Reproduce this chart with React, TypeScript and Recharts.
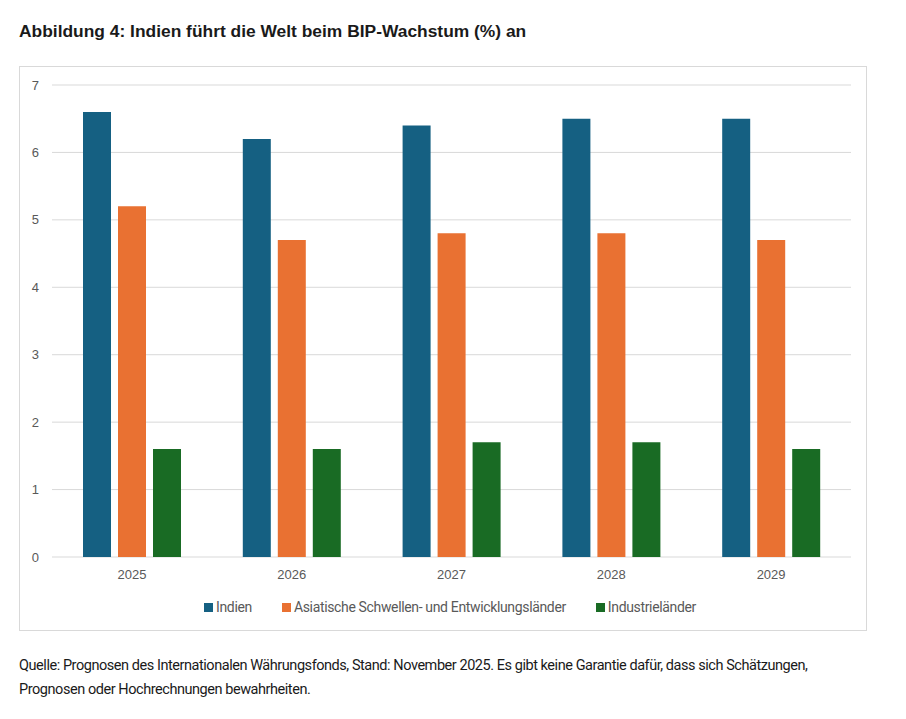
import { BarChart, Bar, XAxis, YAxis, CartesianGrid, Legend } from "recharts";

const YEARS = ["2025", "2026", "2027", "2028", "2029"];
const INDIEN = [6.6, 6.2, 6.4, 6.5, 6.5];
const ASIEN = [5.2, 4.7, 4.8, 4.8, 4.7];
const INDUSTRIE = [1.6, 1.6, 1.7, 1.7, 1.6];
const Y_TICKS = [0, 1, 2, 3, 4, 5, 6, 7];

const SERIES = [
  { key: "indien", name: "Indien", color: "#156082" },
  { key: "asien", name: "Asiatische Schwellen- und Entwicklungsländer", color: "#e97132" },
  { key: "industrie", name: "Industrieländer", color: "#196b24" },
];

const data = YEARS.map((year, i) => ({
  year,
  indien: INDIEN[i],
  asien: ASIEN[i],
  industrie: INDUSTRIE[i],
}));

const axisFont = "'Liberation Sans', Arial, sans-serif";
const narrowFont = "Roboto, 'Liberation Sans', Arial, sans-serif";

function LegendContent() {
  return (
    <div
      style={{
        display: "flex",
        justifyContent: "center",
        gap: 30,
        fontFamily: narrowFont,
        fontSize: 14,
        letterSpacing: -0.35,
        color: "#595959",
        marginLeft: 14,
      }}
    >
      {SERIES.map((s) => (
        <div key={s.key} style={{ display: "flex", alignItems: "center" }}>
          <span
            style={{
              display: "inline-block",
              width: 9,
              height: 9,
              background: s.color,
              marginRight: 3,
            }}
          />
          <span>{s.name}</span>
        </div>
      ))}
    </div>
  );
}

export default function App() {
  return (
    <div
      style={{
        position: "absolute",
        left: 0,
        top: 0,
        width: 906,
        height: 719,
        background: "#fff",
      }}
    >
      <div
        style={{
          position: "absolute",
          left: 19,
          top: 21,
          fontFamily: axisFont,
          fontWeight: "bold",
          fontSize: 17.4,
          color: "#1a1a1a",
          whiteSpace: "nowrap",
        }}
      >
        Abbildung 4: Indien führt die Welt beim BIP-Wachstum (%) an
      </div>
      <div
        style={{
          position: "absolute",
          left: 19,
          top: 66,
          width: 846,
          height: 563,
          border: "1px solid #d9d9d9",
        }}
      >
        <BarChart
          width={846}
          height={563}
          data={data}
          margin={{ top: 18, right: 15, left: 0, bottom: 3 }}
          barGap={7}
          barCategoryGap={31}
        >
          <CartesianGrid vertical={false} stroke="#d9d9d9" />
          <XAxis
            dataKey="year"
            axisLine={false}
            tickLine={false}
            tickMargin={7}
            tick={{ fill: "#595959", fontSize: 13, fontFamily: axisFont }}
          />
          <YAxis
            width={32}
            domain={[0, 7]}
            ticks={Y_TICKS}
            axisLine={false}
            tickLine={false}
            tickMargin={7}
            tick={{ fill: "#595959", fontSize: 13, fontFamily: axisFont }}
          />
          <Legend
            verticalAlign="bottom"
            height={40}
            content={() => <LegendContent />}
            wrapperStyle={{ top: 532, bottom: "auto", left: 0, width: 846 }}
          />
          {SERIES.map((s) => (
            <Bar
              key={s.key}
              dataKey={s.key}
              name={s.name}
              fill={s.color}
              barSize={28}
              isAnimationActive={false}
            />
          ))}
        </BarChart>
      </div>
      <div
        style={{
          position: "absolute",
          left: 19,
          top: 654,
          width: 880,
          fontFamily: narrowFont,
          fontSize: 14.5,
          letterSpacing: -0.45,
          lineHeight: "24px",
          color: "#1a1a1a",
          whiteSpace: "nowrap",
        }}
      >
        Quelle: Prognosen des Internationalen Währungsfonds, Stand: November 2025. Es gibt keine Garantie dafür, dass sich Schätzungen,
        <br />
        Prognosen oder Hochrechnungen bewahrheiten.
      </div>
    </div>
  );
}
